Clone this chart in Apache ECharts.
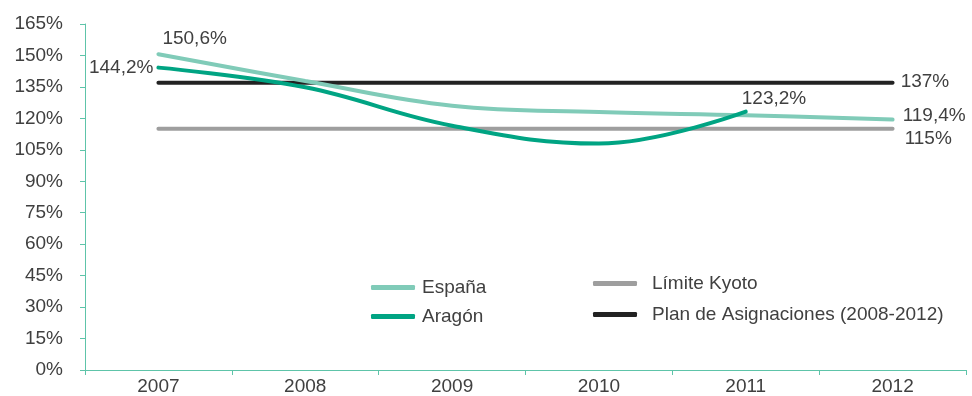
<!DOCTYPE html>
<html lang="es">
<head>
<meta charset="UTF-8">
<title>Emisiones</title>
<script src="https://cdn.jsdelivr.net/npm/echarts@6/dist/echarts.min.js"></script>
<style>
  html, body { margin: 0; padding: 0; background: #fff; }
  #chart { width: 972px; height: 396px; }
</style>
</head>
<body>
<div id="chart"></div>
<script>
var years = ['2007', '2008', '2009', '2010', '2011', '2012'];
var espana = [150.6, 137.8, 126, 123, 121.5, 119.4];
var aragon = [144.2, 134.8, 116.5, 108, 123.2, null];
var kyoto = [115, 115, 115, 115, 115, 115];
var plan = [137, 137, 137, 137, 137, 137];

var FONT = 'Liberation Sans';
var TXT = '#404040';
var AXIS = '#5ec4a9';
var FS = 19;

function fmt(v) {
    return String(v).replace('.', ',') + '%';
}

// etiqueta sólo en los puntos que la llevan
function withLabels(values, labels) {
    return values.map(function (v, i) {
        if (labels[i]) return { value: v, label: Object.assign({ show: true, formatter: fmt(v) }, labels[i]) };
        return v;
    });
}

var lblBase = { color: TXT, fontFamily: FONT, fontSize: FS };

function lineSeries(name, data, color, z, smooth) {
    return {
        name: name,
        type: 'line',
        smooth: smooth || false,
        data: data,
        symbol: 'circle', symbolSize: 0.1, showSymbol: true,
        lineStyle: { color: color, width: 4, cap: 'round' },
        itemStyle: { color: color },
        label: { show: false },
        z: z
    };
}

var chart = echarts.init(document.getElementById('chart'));
chart.setOption({
    animation: false,
    textStyle: { fontFamily: FONT, color: TXT },
    grid: { left: 85, right: 6, top: 24, bottom: 25 },
    legend: [{
        data: ['España', 'Aragón'],
        orient: 'vertical',
        left: 366, top: 273,
        itemWidth: 44, itemHeight: 5, itemGap: 10,
        icon: 'roundRect',
        textStyle: { fontSize: FS, color: TXT, fontFamily: FONT, padding: [0, 0, 0, 2] }
    }, {
        data: ['Límite Kyoto', 'Plan de Asignaciones (2008-2012)'],
        orient: 'vertical',
        left: 588, top: 269,
        itemWidth: 44, itemHeight: 5, itemGap: 12,
        icon: 'roundRect',
        textStyle: { fontSize: FS, color: TXT, fontFamily: FONT, padding: [0, 0, 0, 10] }
    }],
    xAxis: {
        type: 'category',
        data: years,
        boundaryGap: true,
        axisLine: { lineStyle: { color: AXIS, width: 1 } },
        axisTick: { show: true, length: 5, lineStyle: { color: AXIS } },
        axisLabel: { color: TXT, fontSize: FS, fontFamily: FONT, margin: 7 },
        splitLine: { show: false }
    },
    yAxis: {
        type: 'value',
        min: 0, max: 165, interval: 15,
        axisLine: { show: true, lineStyle: { color: AXIS, width: 1 } },
        axisTick: { show: true, length: 5, inside: false, lineStyle: { color: AXIS } },
        axisLabel: { color: TXT, fontSize: FS, fontFamily: FONT, margin: 22, formatter: '{value}%' },
        splitLine: { show: false }
    },
    series: [
        lineSeries('Límite Kyoto', withLabels(kyoto, [null, null, null, null, null,
            Object.assign({ position: 'right', distance: 12, offset: [0, 10] }, lblBase)]), '#9e9e9e', 2),
        lineSeries('Plan de Asignaciones (2008-2012)', withLabels(plan, [null, null, null, null, null,
            Object.assign({ position: 'right', distance: 8, offset: [0, -1] }, lblBase)]), '#222222', 3),
        lineSeries('España', withLabels(espana, [
            Object.assign({ position: 'top', align: 'left', distance: 6, offset: [4, 0] }, lblBase),
            null, null, null, null,
            Object.assign({ position: 'right', distance: 10, offset: [0, -4] }, lblBase)]), '#80cbb8', 4, 0.4),
        lineSeries('Aragón', withLabels(aragon, [
            Object.assign({ position: 'left', distance: 5, offset: [0, 0] }, lblBase),
            null, null, null,
            Object.assign({ position: 'top', align: 'left', distance: 3, offset: [-4, 0] }, lblBase),
            null]), '#00a483', 5, 0.4)
    ]
});
</script>
</body>
</html>
